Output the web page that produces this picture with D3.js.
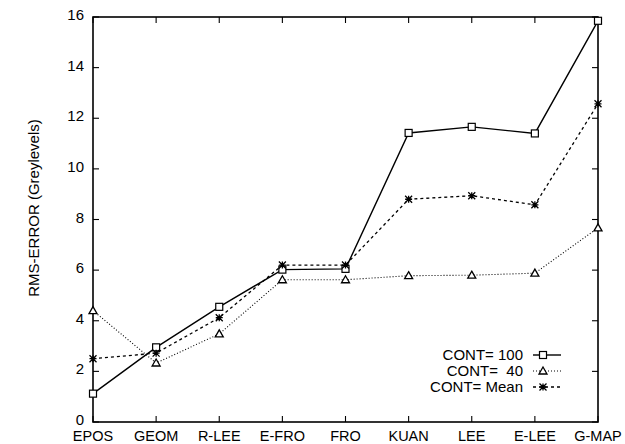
<!DOCTYPE html>
<html>
<head>
<meta charset="utf-8">
<script src="https://cdn.jsdelivr.net/npm/d3@7"></script>
<style>
  body { margin: 0; background: #fff; }
  text { font-family: "Liberation Sans", Arial, sans-serif; fill: #000; }
</style>
</head>
<body>
<div id="chart"></div>
<script>
let categories = ['EPOS', 'GEOM', 'R-LEE', 'E-FRO', 'FRO', 'KUAN', 'LEE', 'E-LEE', 'G-MAP'];
let cont100 = [1.12, 2.95, 4.55, 6.02, 6.05, 11.42, 11.66, 11.4, 15.85];
let cont40 = [4.4, 2.33, 3.48, 5.62, 5.62, 5.78, 5.8, 5.88, 7.67];
let contMean = [2.5, 2.72, 4.12, 6.2, 6.2, 8.8, 8.94, 8.58, 12.57];
let yTicks = [0, 2, 4, 6, 8, 10, 12, 14, 16];

let series = [
    {label: 'CONT= 100', values: cont100, marker: 'square', dash: null, width: 1.4},
    {label: 'CONT=  40', values: cont40, marker: 'triangle', dash: '1,2', width: 1.1},
    {label: 'CONT= Mean', values: contMean, marker: 'star', dash: '3,3', width: 1.3}
];

let W = 625, H = 444;
let plotLeft = 93, plotRight = 598, plotTop = 17, plotBottom = 422;

let svg = d3.select('#chart').append('svg')
    .attr('width', W)
    .attr('height', H);

let xScale = d3.scalePoint().domain(categories).range([plotLeft, plotRight]);
let yScale = d3.scaleLinear().domain([0, 16]).range([plotBottom, plotTop]);

// frame
svg.append('rect')
    .attr('x', plotLeft).attr('y', plotTop)
    .attr('width', plotRight - plotLeft).attr('height', plotBottom - plotTop)
    .attr('fill', 'none').attr('stroke', '#000').attr('stroke-width', 1.6);

// ticks pointing inward on all four sides
let tickLen = 6;
let ticks = svg.append('g').attr('stroke', '#000').attr('stroke-width', 1.1);
yTicks.forEach(function (t) {
    let y = yScale(t);
    ticks.append('line').attr('x1', plotLeft).attr('x2', plotLeft + tickLen).attr('y1', y).attr('y2', y);
    ticks.append('line').attr('x1', plotRight).attr('x2', plotRight - tickLen).attr('y1', y).attr('y2', y);
});
categories.forEach(function (c) {
    let x = xScale(c);
    ticks.append('line').attr('x1', x).attr('x2', x).attr('y1', plotBottom).attr('y2', plotBottom - tickLen);
    ticks.append('line').attr('x1', x).attr('x2', x).attr('y1', plotTop).attr('y2', plotTop + tickLen);
});

// tick labels
svg.append('g').selectAll('text')
    .data(yTicks)
    .enter()
    .append('text')
    .attr('x', plotLeft - 9)
    .attr('y', (t) => yScale(t) + 3)
    .attr('text-anchor', 'end')
    .attr('font-size', 15)
    .text((t) => t);

svg.append('g').selectAll('text')
    .data(categories)
    .enter()
    .append('text')
    .attr('x', (c) => xScale(c))
    .attr('y', 441)
    .attr('text-anchor', 'middle')
    .attr('font-size', 14.5)
    .text((c) => c);

svg.append('text')
    .attr('transform', 'translate(39,' + 208 + ') rotate(-90)')
    .attr('text-anchor', 'middle')
    .attr('font-size', 15)
    .text('RMS-ERROR (Greylevels)');

function drawMarker(g, type, x, y) {
    let s = 3.5;
    if (type === 'square') {
        g.append('rect').attr('x', x - s).attr('y', y - s).attr('width', 2 * s).attr('height', 2 * s)
            .attr('fill', '#fff').attr('stroke', '#000').attr('stroke-width', 1.2);
    } else if (type === 'triangle') {
        g.append('path')
            .attr('d', 'M' + x + ',' + (y - 4) + 'L' + (x + 4) + ',' + (y + 3) + 'L' + (x - 4) + ',' + (y + 3) + 'Z')
            .attr('fill', '#fff').attr('stroke', '#000').attr('stroke-width', 1.3);
    } else {
        let p = 'M' + (x - s) + ',' + y + 'L' + (x + s) + ',' + y +
            'M' + x + ',' + (y - s) + 'L' + x + ',' + (y + s) +
            'M' + (x - s) + ',' + (y - s) + 'L' + (x + s) + ',' + (y + s) +
            'M' + (x - s) + ',' + (y + s) + 'L' + (x + s) + ',' + (y - s);
        g.append('path').attr('d', p).attr('stroke', '#000').attr('stroke-width', 1.3).attr('fill', 'none');
    }
}

let line = d3.line()
    .x((d, i) => xScale(categories[i]))
    .y((d) => yScale(d));

series.forEach(function (s) {
    let g = svg.append('g');
    g.append('path')
        .attr('d', line(s.values))
        .attr('fill', 'none')
        .attr('stroke', '#000')
        .attr('stroke-width', s.width)
        .attr('stroke-dasharray', s.dash);
    s.values.forEach(function (v, i) {
        drawMarker(g, s.marker, xScale(categories[i]), yScale(v));
    });
});

// legend
let legend = svg.append('g');
series.forEach(function (s, i) {
    let y = 355 + i * 16;
    legend.append('text')
        .attr('x', 523)
        .attr('y', y + 5)
        .attr('text-anchor', 'end')
        .attr('font-size', 15)
        .style('white-space', 'pre')
        .text(s.label);
    legend.append('line')
        .attr('x1', 533).attr('x2', 561).attr('y1', y).attr('y2', y)
        .attr('stroke', '#000').attr('stroke-width', s.width)
        .attr('stroke-dasharray', s.dash);
    drawMarker(legend, s.marker, 543, y);
});
</script>
</body>
</html>
